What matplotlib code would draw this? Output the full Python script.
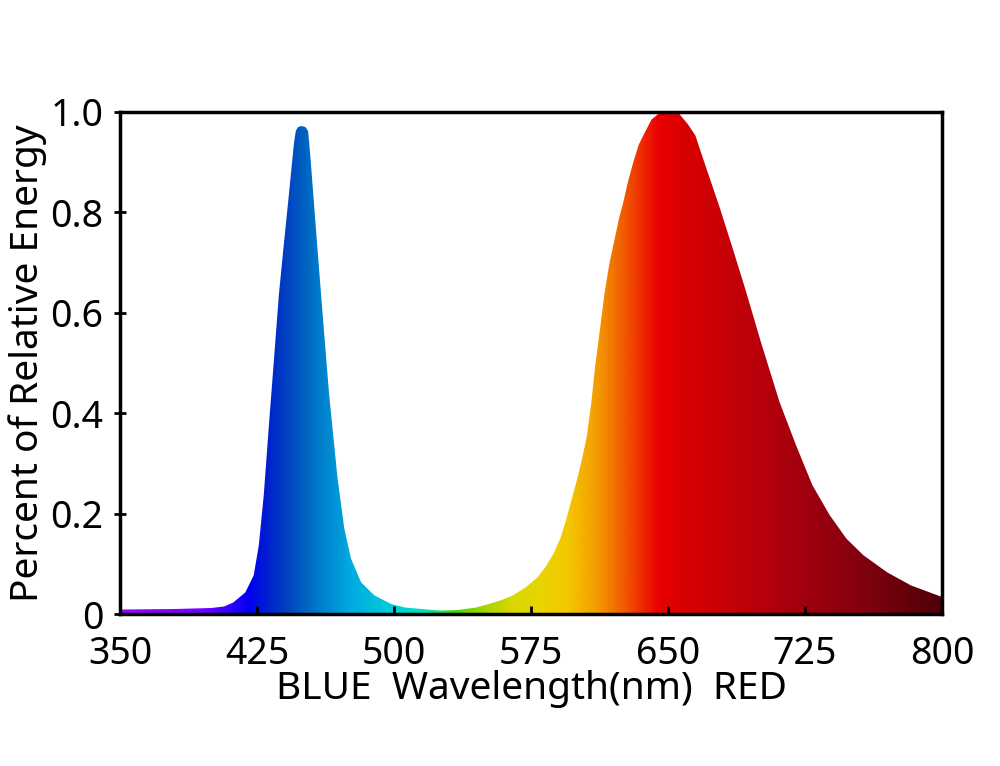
import matplotlib
matplotlib.use("Agg")
import matplotlib.pyplot as plt
import numpy as np
from matplotlib.colors import LinearSegmentedColormap

# Spectrum
wavelength = [350, 380, 400, 407, 412, 418.6, 423.2, 426, 428.7, 431.4, 434.2,
              437, 439.7, 442.5, 445.2, 446.3, 447.5, 449.3, 451.5, 453, 454.4,
              457.2, 460.8, 464.5, 469.1, 472.8, 476.5, 482, 489.3, 498.5, 506,
              515, 525, 535, 545, 552, 559, 565, 572, 578, 583, 587, 591, 594,
              597, 600, 603, 605.5, 608, 610, 612.5, 615.3, 618, 620.8, 623,
              625.5, 628, 631, 634, 637.4, 641, 645, 650, 656, 661, 665, 670.5,
              678, 685, 692.5, 701, 711, 720, 729, 738.5, 747.7, 757, 770, 783,
              795.5, 800]
energy = [0.009, 0.010, 0.012, 0.015, 0.023, 0.043, 0.077, 0.137, 0.237, 0.37,
          0.503, 0.637, 0.737, 0.837, 0.937, 0.963, 0.970, 0.972, 0.970, 0.962,
          0.903, 0.77, 0.603, 0.437, 0.27, 0.17, 0.11, 0.063, 0.037, 0.02,
          0.013, 0.010, 0.007, 0.008, 0.013, 0.020, 0.028, 0.037, 0.053, 0.071,
          0.094, 0.118, 0.150, 0.185, 0.225, 0.265, 0.31, 0.353, 0.42, 0.49,
          0.56, 0.64, 0.70, 0.747, 0.785, 0.82, 0.86, 0.90, 0.935, 0.96, 0.985,
          0.997, 1.0, 0.997, 0.975, 0.953, 0.893, 0.813, 0.733, 0.645, 0.54,
          0.423, 0.337, 0.257, 0.197, 0.15, 0.117, 0.083, 0.057, 0.04, 0.034]

# Colour of the fill along the wavelength axis
color_nm = [350, 395, 410, 420, 430, 440, 450, 460, 475, 500, 515, 525, 535,
            550, 565, 580, 595, 610, 625, 635, 645, 660, 700, 750, 800]
color_hex = ["#9a00ff", "#7000ff", "#3000ff", "#0000ee", "#0020d0", "#0040c0",
             "#0060c0", "#0080cc", "#00a8e0", "#00d0d8", "#00e0c0", "#20e060",
             "#50d400", "#a8d400", "#d8d800", "#e8d400", "#f4c800", "#f4a000",
             "#f06000", "#f03000", "#e80000", "#d80000", "#b8000c", "#8a0010",
             "#500008"]

x_ticks = [350, 425, 500, 575, 650, 725, 800]
y_ticks = [0, 0.2, 0.4, 0.6, 0.8, 1.0]
y_tick_labels = ["0", "0.2", "0.4", "0.6", "0.8", "1.0"]

plt.rcParams["font.family"] = ["Noto Sans", "DejaVu Sans"]

fig = plt.figure(figsize=(10, 7.66), dpi=100)
ax = fig.add_axes([0.12, 0.1984, 0.822, 0.6554])

lo, hi = color_nm[0], color_nm[-1]
cmap = LinearSegmentedColormap.from_list(
    "spectrum", [((n - lo) / (hi - lo), c) for n, c in zip(color_nm, color_hex)])

grad = np.linspace(0, 1, 900).reshape(1, -1)
im = ax.imshow(grad, cmap=cmap, extent=[lo, hi, 0, 1.0], aspect="auto",
               interpolation="bilinear", zorder=1)

# clip the gradient to the area under the spectrum
verts = np.column_stack([[wavelength[0]] + wavelength + [wavelength[-1]],
                         [0] + energy + [0]])
poly = plt.Polygon(verts, closed=True, facecolor="none", edgecolor="none",
                   transform=ax.transData)
ax.add_patch(poly)
im.set_clip_path(poly)

ax.set_xlim(350, 800)
ax.set_ylim(0, 1.0)
ax.set_xticks(x_ticks)
ax.set_yticks(y_ticks)
ax.set_yticklabels(y_tick_labels)
ax.tick_params(axis="x", direction="in", length=6, width=2, labelsize=27, pad=15)
ax.tick_params(axis="y", direction="inout", length=8, width=2, labelsize=27, pad=8)
for s in ax.spines.values():
    s.set_linewidth(2.5)
    s.set_zorder(5)

ax.set_xlabel("BLUE  Wavelength(nm)  RED", fontsize=28, labelpad=-2)
ax.set_ylabel("Percent of Relative Energy", fontsize=28, labelpad=2)

fig.savefig("out.png", dpi=100)
